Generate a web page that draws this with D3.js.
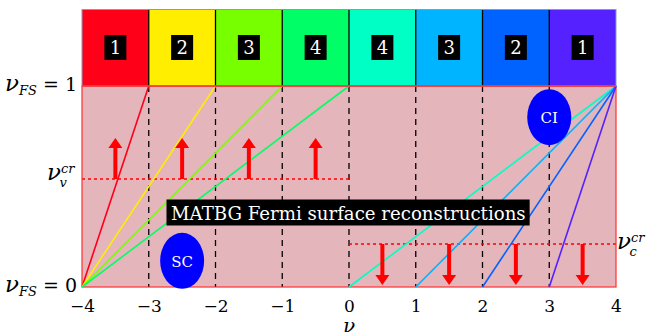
<!DOCTYPE html>
<html><head><meta charset="utf-8">
<script src="https://cdn.jsdelivr.net/npm/d3@7"></script>
<style>body{margin:0;background:#fff}svg{display:block}</style>
</head><body>
<script>
// ---- data ----
const xTicks = [-4, -3, -2, -1, 0, 1, 2, 3, 4];
const bandStarts = [-4, -3, -2, -1, 0, 1, 2, 3];
const bandLabels = ["1", "2", "3", "4", "4", "3", "2", "1"];
const bandColors = ["#ff0019", "#ffee00", "#77ff00", "#00ff66", "#00ffc4", "#00b4ff", "#0062ff", "#5522ff"];
// Fermi-surface lines: [x0, y0, x1, y1]
const leftLines = [[-4, 0, -3, 1], [-4, 0, -2, 1], [-4, 0, -1, 1], [-4, 0, 0, 1]];
const rightLines = [[0, 0, 4, 1], [1, 0, 4, 1], [2, 0, 4, 1], [3, 0, 4, 1]];
const leftLineColors = ["#ff0019", "#ffee00", "#77ff00", "#00ff66"];
const rightLineColors = ["#00ffc4", "#00b4ff", "#0062ff", "#5522ff"];
const dashedX = [-3, -2, -1, 0, 1, 2, 3];
const vCritV = 0.537, vCritC = 0.214;
const upArrowX = [-3.5, -2.5, -1.5, -0.5];
const upArrowTip = 0.741;
const downArrowX = [0.5, 1.5, 2.5, 3.5];
const downArrowTip = 0.01;
const ellipses = [{label: "SC", x: -2.5, y: 0.13}, {label: "CI", x: 3.0, y: 0.845}];
const title = "MATBG Fermi surface reconstructions";

// ---- layout ----
const W = 646, H = 332;
const svg = d3.select("body").append("svg").attr("width", W).attr("height", H);
const x = d3.scaleLinear().domain([-4, 4]).range([82, 616]);
const y = d3.scaleLinear().domain([0, 1]).range([287, 86]);
const stripTop = 9.5;
const serif = "DejaVu Serif";

// pink region
svg.append("rect").attr("x", x(-4)).attr("y", y(1)).attr("width", x(4) - x(-4)).attr("height", y(0) - y(1))
  .attr("fill", "#e5b5bc");

// dashed verticals
svg.append("g").selectAll("line").data(dashedX).join("line")
  .attr("x1", d => x(d)).attr("x2", d => x(d)).attr("y1", y(1)).attr("y2", y(0))
  .attr("stroke", "#000").attr("stroke-width", 1.3).attr("stroke-dasharray", "6,5");

// critical dotted lines
svg.append("line").attr("x1", x(-4)).attr("x2", x(0)).attr("y1", y(vCritV)).attr("y2", y(vCritV))
  .attr("stroke", "#ff0000").attr("stroke-width", 1.5).attr("stroke-dasharray", "3,3");
svg.append("line").attr("x1", x(0)).attr("x2", x(4)).attr("y1", y(vCritC)).attr("y2", y(vCritC))
  .attr("stroke", "#ff0000").attr("stroke-width", 1.5).attr("stroke-dasharray", "3,3");

// pink region border
svg.append("rect").attr("x", x(-4)).attr("y", y(1)).attr("width", x(4) - x(-4)).attr("height", y(0) - y(1))
  .attr("fill", "none").attr("stroke", "#ff3030").attr("stroke-width", 1.2);

// colored lines
const lineG = svg.append("g");
lineG.selectAll("line.l").data(leftLines).join("line").attr("class", "l")
  .attr("x1", d => x(d[0])).attr("y1", d => y(d[1])).attr("x2", d => x(d[2])).attr("y2", d => y(d[3]))
  .attr("stroke", (d, i) => leftLineColors[i]).attr("stroke-width", 1.6);
lineG.selectAll("line.r").data(rightLines).join("line").attr("class", "r")
  .attr("x1", d => x(d[0])).attr("y1", d => y(d[1])).attr("x2", d => x(d[2])).attr("y2", d => y(d[3]))
  .attr("stroke", (d, i) => rightLineColors[i]).attr("stroke-width", 1.6);

// arrows
function arrow(g, xv, y0, y1) {
  const px = x(xv), py0 = y(y0), py1 = y(y1);
  const dir = py1 < py0 ? -1 : 1;
  const headLen = 10, headW = 7, shaftW = 2;
  const pb = py1 - dir * headLen;
  g.append("path").attr("fill", "#ff0000")
    .attr("d", `M${px - shaftW},${py0} L${px - shaftW},${pb} L${px - headW},${pb} L${px},${py1} L${px + headW},${pb} L${px + shaftW},${pb} L${px + shaftW},${py0} Z`);
}
const arrG = svg.append("g");
upArrowX.forEach(v => arrow(arrG, v, vCritV, upArrowTip));
downArrowX.forEach(v => arrow(arrG, v, vCritC, downArrowTip));

// title box
const tG = svg.append("g");
const tRect = tG.append("rect").attr("fill", "#000");
const tText = tG.append("text").text(title).attr("fill", "#fff").attr("font-family", serif)
  .attr("font-size", 20).attr("x", 171).attr("y", 219.5);
let bb = tText.node().getBBox();
const fs = 20 * 355 / bb.width;
tText.attr("font-size", fs);
bb = tText.node().getBBox();
tRect.attr("x", 166.5).attr("y", 199.5).attr("width", bb.width + 8.5).attr("height", 26);

// ellipses
const eG = svg.append("g").selectAll("g").data(ellipses).join("g");
eG.append("ellipse").attr("cx", d => x(d.x)).attr("cy", d => y(d.y)).attr("rx", 22).attr("ry", 28).attr("fill", "#0000ff");
eG.append("text").text(d => d.label).attr("x", d => x(d.x)).attr("y", d => y(d.y) + 6)
  .attr("text-anchor", "middle").attr("fill", "#fff").attr("font-family", serif).attr("font-size", 15);

// top strip
const sG = svg.append("g");
sG.selectAll("rect").data(bandStarts).join("rect")
  .attr("x", d => x(d)).attr("y", stripTop).attr("width", d => x(d + 1) - x(d)).attr("height", y(1) - stripTop)
  .attr("fill", (d, i) => bandColors[i]);
sG.append("g").selectAll("line").data(xTicks.slice(1, -1)).join("line")
  .attr("x1", d => x(d)).attr("x2", d => x(d)).attr("y1", stripTop).attr("y2", y(1))
  .attr("stroke", "#000").attr("stroke-width", 1.3);
sG.append("rect").attr("x", x(-4)).attr("y", stripTop).attr("width", x(4) - x(-4)).attr("height", y(1) - stripTop)
  .attr("fill", "none").attr("stroke", "#8899bb").attr("stroke-width", 1);
svg.append("line").attr("x1", x(-4)).attr("x2", x(4)).attr("y1", y(1)).attr("y2", y(1)).attr("stroke", "#ff3030").attr("stroke-width", 1.5);
const lab = sG.append("g").selectAll("g").data(bandStarts).join("g");
lab.append("rect").attr("x", d => x(d + 0.5) - 11).attr("y", 35).attr("width", 22).attr("height", 25).attr("fill", "#000");
lab.append("text").text((d, i) => bandLabels[i]).attr("x", d => x(d + 0.5)).attr("y", 54)
  .attr("text-anchor", "middle").attr("fill", "#fff").attr("font-family", serif).attr("font-size", 18);

// x axis
const axis = d3.axisBottom(x).tickValues(xTicks).tickSize(0).tickPadding(0)
  .tickFormat(d => d < 0 ? "\u2212" + Math.abs(d) : String(d));
const ax = svg.append("g").attr("transform", `translate(0,${y(0) + 13})`).call(axis);
ax.select(".domain").remove();
ax.selectAll("text").attr("font-family", serif).attr("font-size", 17).attr("fill", "#000");
svg.append("text").text("\u03bd").attr("x", x(0)).attr("y", 333).attr("text-anchor", "middle")
  .attr("font-family", serif).attr("font-style", "italic").attr("font-size", 20);

// nu labels
function nuLabel(xp, yp, sub, sup, anchorEnd, rest) {
  const t = svg.append("text").attr("x", xp).attr("y", yp).attr("font-family", serif).attr("font-size", 19)
    .attr("text-anchor", anchorEnd ? "end" : "start").attr("fill", "#000");
  t.append("tspan").text("\u03bd").attr("font-style", "italic").attr("font-size", 23);
  if (sup) {
    t.append("tspan").text(sup).attr("font-style", "italic").attr("font-size", 13).attr("dy", -7);
    t.append("tspan").text(sub).attr("font-style", "italic").attr("font-size", 13).attr("dx", -15).attr("dy", 14);
  } else {
    t.append("tspan").text(sub).attr("font-style", "italic").attr("font-size", 13).attr("dy", 4);
    t.append("tspan").text(rest).attr("dy", -4);
  }
  return t;
}
nuLabel(77, 91, "FS", null, true, " = 1");
nuLabel(77, 292, "FS", null, true, " = 0");
nuLabel(47, 180, "v", "cr", false);
nuLabel(617, 249, "c", "cr", false);
</script>
</body></html>
